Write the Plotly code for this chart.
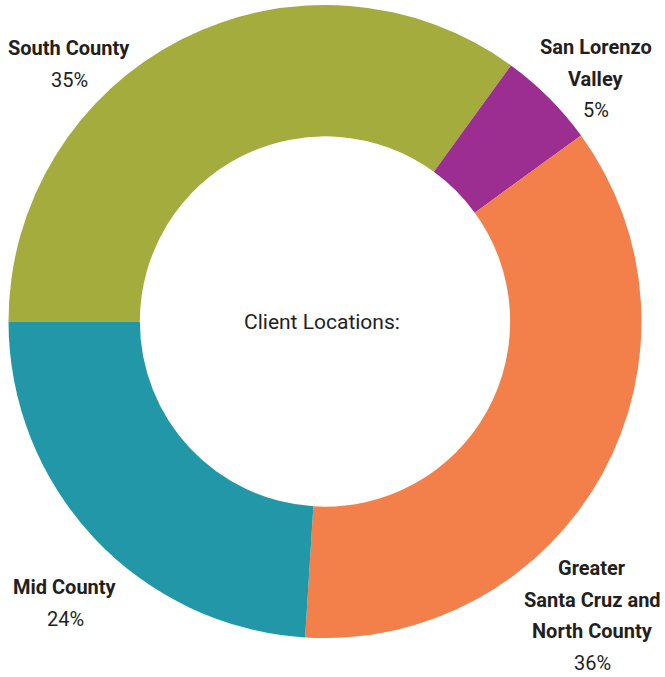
import plotly.graph_objects as go

# Data
regions = ["South County", "San Lorenzo Valley", "Greater Santa Cruz and North County", "Mid County"]
name_lines = [["South County"], ["San Lorenzo", "Valley"], ["Greater", "Santa Cruz and", "North County"], ["Mid County"]]
shares = [35, 5, 36, 24]
colors = ["#A3AC3C", "#9C2D91", "#F37F4A", "#2197A8"]
center_title = "Client Locations:"

W, H = 665, 677
FONT = "Roboto, Liberation Sans, sans-serif"
TEXT_COLOR = "#231F20"

fig = go.Figure(go.Pie(
    labels=regions,
    values=shares,
    hole=0.585,
    sort=False,
    direction="clockwise",
    rotation=-90,
    marker=dict(colors=colors, line=dict(color="white", width=0)),
    textinfo="none",
    hoverinfo="label+percent",
    showlegend=False,
    domain=dict(x=[8 / W, 642 / W], y=[1 - 638 / H, 1 - 5 / H]),
))

# label anchor: x center and y of first line (pixels), line step
label_anchor = [(69, 48), (596, 47), (592, 568), (65, 587)]
STEP = 31.5
for (px, py), lines, val in zip(label_anchor, name_lines, shares):
    texts = [f"<b>{t}</b>" for t in lines] + [f"{val}%"]
    for i, t in enumerate(texts):
        fig.add_annotation(
            x=px / W, y=1 - (py + i * STEP) / H, xref="paper", yref="paper",
            text=t, showarrow=False, xanchor="center", yanchor="middle",
            font=dict(family=FONT, size=20, color=TEXT_COLOR),
        )

fig.add_annotation(
    x=322 / W, y=1 - 322 / H, xref="paper", yref="paper",
    text=center_title, showarrow=False, xanchor="center", yanchor="middle",
    font=dict(family=FONT, size=21, color=TEXT_COLOR),
)

fig.update_layout(
    width=W, height=H,
    margin=dict(l=0, r=0, t=0, b=0),
    paper_bgcolor="white", plot_bgcolor="white",
)

fig.write_html("out.html", config={"displayModeBar": False},
               post_script="document.body.style.margin='0';")
